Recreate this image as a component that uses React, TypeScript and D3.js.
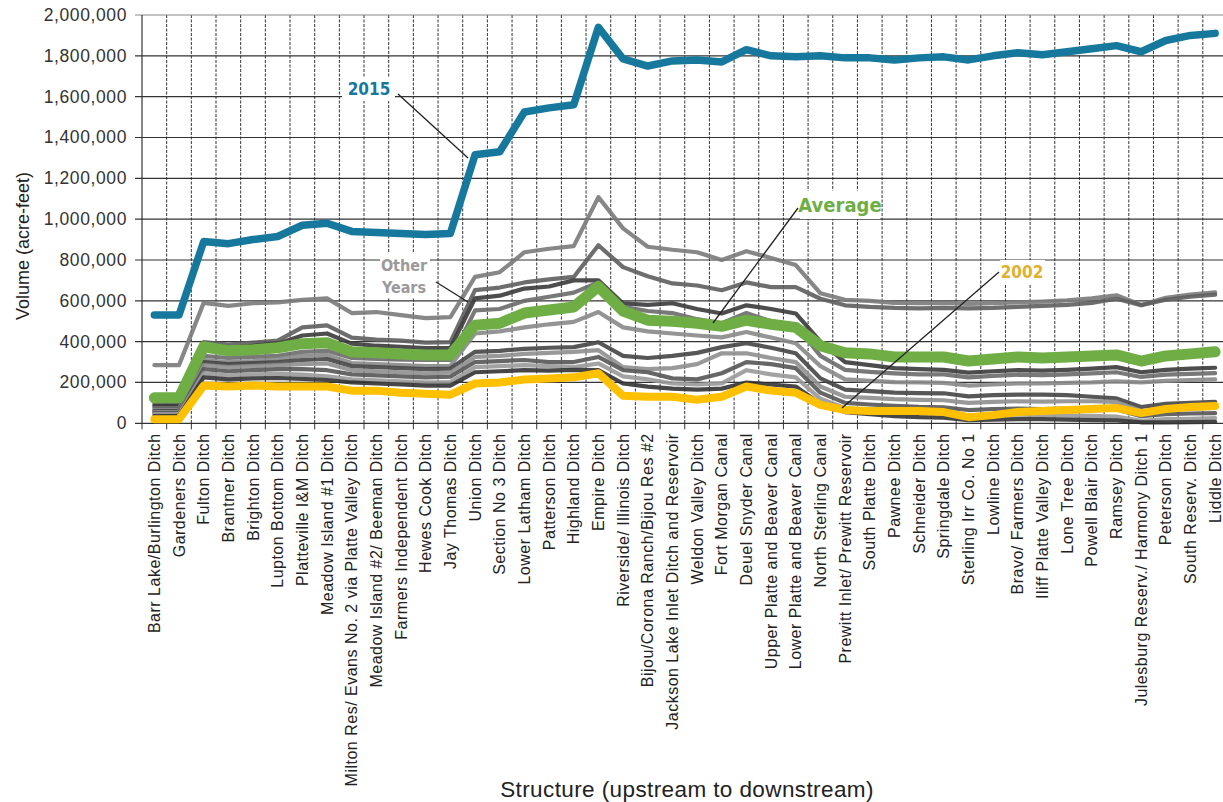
import React from "react";
import * as d3 from "d3";

// Structures, upstream to downstream
const categories = [
  "Barr Lake/Burlington Ditch", "Gardeners Ditch", "Fulton Ditch", "Brantner Ditch", "Brighton Ditch",
  "Lupton Bottom Ditch", "Platteville I&M Ditch", "Meadow Island #1 Ditch",
  "Milton Res/ Evans No. 2 via Platte Valley Ditch", "Meadow  Island #2/ Beeman Ditch",
  "Farmers Independent Ditch", "Hewes Cook Ditch", "Jay Thomas Ditch", "Union Ditch", "Section No 3 Ditch",
  "Lower Latham Ditch", "Patterson Ditch", "Highland Ditch", "Empire Ditch", "Riverside/ Illinois Ditch",
  "Bijou/Corona Ranch/Bijou Res #2", "Jackson Lake Inlet Ditch and Reservoir", "Weldon Valley Ditch",
  "Fort Morgan Canal", "Deuel Snyder Canal", "Upper Platte and Beaver Canal", "Lower Platte and Beaver Canal",
  "North Sterling Canal", "Prewitt Inlet/ Prewitt Reservoir", "South Platte Ditch", "Pawnee Ditch",
  "Schneider Ditch", "Springdale Ditch", "Sterling Irr Co. No 1", "Lowline Ditch", "Bravo/ Farmers Ditch",
  "Iliff Platte Valley Ditch", "Lone Tree Ditch", "Powell Blair Ditch", "Ramsey Ditch",
  "Julesburg Reserv./ Harmony Ditch 1", "Peterson Ditch", "South Reserv. Ditch", "Liddle Ditch",
];

// Volumes in thousands of acre-feet
const y2015 = [530, 530, 890, 880, 900, 915, 970, 980, 940, 935, 930, 925, 930, 1315, 1330, 1525, 1545, 1560, 1940, 1785, 1750, 1775, 1780, 1770, 1830, 1800, 1795, 1800, 1790, 1790, 1780, 1790, 1795, 1780, 1800, 1815, 1805, 1820, 1835, 1850, 1820, 1875, 1900, 1910];
const yAverage = [125, 125, 375, 355, 360, 370, 390, 395, 350, 345, 340, 335, 335, 480, 490, 540, 555, 570, 670, 550, 505, 500, 490, 475, 505, 485, 470, 380, 345, 340, 325, 325, 325, 305, 315, 325, 320, 325, 330, 335, 305, 330, 340, 350];
const y2002 = [20, 20, 185, 180, 185, 180, 180, 180, 160, 160, 150, 145, 140, 195, 200, 215, 220, 225, 245, 135, 130, 130, 115, 130, 180, 160, 150, 90, 65, 60, 60, 60, 55, 30, 40, 55, 60, 65, 70, 75, 50, 70, 80, 85];

const otherA = [285, 285, 590, 575, 588, 592, 605, 612, 540, 545, 530, 515, 520, 717, 740, 838, 855, 868, 1108, 955, 865, 850, 838, 800, 843, 810, 775, 637, 605, 600, 590, 588, 590, 585, 588, 592, 596, 602, 612, 627, 580, 615, 630, 642];
const otherB = [95, 95, 398, 385, 395, 405, 470, 480, 420, 410, 405, 395, 398, 652, 665, 690, 705, 717, 872, 765, 720, 685, 675, 652, 690, 667, 667, 610, 578, 570, 565, 563, 565, 563, 565, 570, 575, 580, 590, 610, 578, 605, 620, 630];
const otherC = [85, 85, 385, 370, 380, 390, 430, 440, 390, 380, 375, 368, 368, 612, 625, 660, 670, 700, 700, 587, 580, 588, 560, 538, 578, 560, 538, 400, 300, 285, 270, 265, 262, 248, 255, 260, 258, 262, 268, 275, 250, 262, 268, 272];
const otherD = [75, 75, 330, 320, 325, 330, 350, 355, 320, 315, 312, 310, 310, 553, 560, 600, 620, 640, 690, 570, 550, 540, 510, 490, 540, 500, 480, 330, 262, 252, 245, 240, 240, 225, 232, 238, 236, 240, 245, 250, 227, 238, 242, 246];
const otherE = [65, 65, 310, 300, 305, 315, 330, 335, 295, 290, 285, 280, 282, 440, 450, 470, 485, 497, 545, 470, 450, 440, 430, 421, 447, 420, 392, 280, 215, 208, 202, 200, 198, 185, 190, 195, 195, 198, 200, 205, 200, 208, 212, 215];
const otherF = [60, 60, 300, 290, 295, 300, 310, 315, 280, 275, 270, 265, 268, 350, 355, 365, 370, 373, 397, 330, 320, 330, 345, 373, 392, 370, 343, 220, 165, 158, 150, 148, 147, 132, 138, 140, 140, 138, 130, 122, 80, 95, 100, 105];
const otherG = [55, 55, 285, 275, 280, 285, 290, 293, 260, 255, 250, 245, 248, 325, 330, 340, 345, 350, 358, 275, 265, 270, 290, 343, 343, 320, 300, 180, 130, 125, 118, 115, 113, 100, 105, 108, 106, 108, 108, 105, 60, 70, 72, 75];
const otherH = [50, 50, 265, 255, 260, 265, 265, 260, 240, 235, 230, 225, 228, 300, 305, 310, 300, 300, 325, 260, 250, 220, 215, 245, 300, 290, 270, 150, 100, 92, 85, 80, 78, 65, 70, 72, 70, 72, 70, 68, 35, 45, 48, 50];
const otherI = [45, 45, 245, 235, 240, 242, 238, 230, 215, 210, 205, 200, 202, 275, 280, 285, 280, 275, 293, 230, 215, 195, 190, 196, 260, 240, 225, 120, 75, 65, 55, 50, 48, 35, 40, 42, 40, 38, 36, 33, 12, 20, 22, 25];
const otherJ = [35, 35, 225, 215, 220, 222, 218, 212, 200, 195, 190, 185, 185, 250, 255, 260, 258, 262, 260, 195, 180, 170, 165, 170, 200, 190, 180, 95, 55, 45, 35, 30, 28, 15, 18, 20, 20, 18, 16, 14, 5, 5, 6, 7];

const otherYears = [otherA, otherB, otherC, otherD, otherE, otherF, otherG, otherH, otherI, otherJ];
const otherColors = ["#7a7a7a", "#5e5e5e", "#3a3a3a", "#6a6a6a", "#888888", "#454545", "#8e8e8e", "#555555", "#999999", "#333333"];

const yTicks = [0, 200, 400, 600, 800, 1000, 1200, 1400, 1600, 1800, 2000];

const W = 1223;
const H = 802;
const left = 142;
const top = 15;
const bottom = 423.3;
const band = 24.67;
const right = left + band * categories.length;

export default function App() {
  const x = d3.scaleBand<string>().domain(categories).range([left, right]).padding(0);
  const y = d3.scaleLinear().domain([0, 2000]).range([bottom, top]);
  const bw = x.bandwidth();
  const cx = (i: number) => (x(categories[i]) as number) + bw / 2;
  const line = d3
    .line<number>()
    .x((_, i) => cx(i))
    .y((d) => y(d))
    .curve(d3.curveLinear);
  const fmt = d3.format(",");
  const font = "'Liberation Sans', Arial, sans-serif";
  const boldFont = "'Liberation Sans Narrow', 'DejaVu Sans Condensed', 'Liberation Sans', Arial, sans-serif";

  const boundaries = d3.range(categories.length + 1).map((i) => left + i * bw);

  return (
    <svg width={W} height={H} style={{ position: "absolute", left: 0, top: 0, background: "#fff" }}>
      <rect x={0} y={0} width={W} height={H} fill="#fff" />
      {/* vertical grid */}
      {boundaries.slice(1).map((bx, i) => (
        <line key={"vg" + i} x1={bx} x2={bx} y1={top} y2={bottom} stroke="#333" strokeWidth={1} strokeDasharray="3,1.5" />
      ))}
      {/* horizontal grid */}
      {yTicks.map((t) => (
        <line key={"hg" + t} x1={left - 7} x2={W} y1={y(t)} y2={y(t)} stroke={t === 2000 ? "#888" : "#333"} strokeWidth={1.2} />
      ))}
      {/* x ticks */}
      {boundaries.map((bx, i) => (
        <line key={"xt" + i} x1={bx} x2={bx} y1={bottom} y2={bottom + 6} stroke="#333" strokeWidth={1} />
      ))}
      <line x1={left} x2={left} y1={top} y2={bottom} stroke="#333" strokeWidth={1.2} />

      {/* other years */}
      {otherYears.map((s, k) => (
        <path key={"o" + k} d={line(s) || ""} fill="none" stroke={otherColors[k]} strokeWidth={4.2} strokeOpacity={0.9} strokeLinejoin="round" strokeLinecap="round" />
      ))}
      <path d={line(y2002) || ""} fill="none" stroke="#ffc000" strokeWidth={8} strokeLinejoin="round" strokeLinecap="round" />
      <path d={line(yAverage) || ""} fill="none" stroke="#6fae45" strokeWidth={11} strokeLinejoin="round" strokeLinecap="round" />
      <path d={line(y2015) || ""} fill="none" stroke="#15789c" strokeWidth={7.5} strokeLinejoin="round" strokeLinecap="round" />

      {/* annotations */}
      <line x1={398} y1={94} x2={468} y2={158} stroke="#222" strokeWidth={1.3} />
      <rect x={342} y={77} width={53} height={24} fill="#fff" />
      <text x={369} y={95} textAnchor="middle" fontFamily={boldFont} fontWeight="bold" fontSize={17} fill="#15789c">2015</text>

      <line x1={436} y1={282} x2={468} y2={302} stroke="#222" strokeWidth={1.3} />
      <rect x={380} y={253} width={50} height={44} fill="#fff" />
      <text x={404} y={271} textAnchor="middle" fontFamily={boldFont} fontWeight="bold" fontSize={16} fill="#9a9a9a">Other</text>
      <text x={404} y={293} textAnchor="middle" fontFamily={boldFont} fontWeight="bold" fontSize={16} fill="#9a9a9a">Years</text>

      <line x1={798} y1={208} x2={713} y2={323} stroke="#222" strokeWidth={1.3} />
      <rect x={800} y={191} width={80} height={28} fill="#fff" />
      <text x={840} y={212} textAnchor="middle" fontFamily={boldFont} fontWeight="bold" fontSize={20} fill="#6fae45">Average</text>

      <line x1={999} y1={272} x2={842} y2={408} stroke="#222" strokeWidth={1.3} />
      <rect x={1000} y={260} width={45} height={24} fill="#fff" />
      <text x={1022} y={278} textAnchor="middle" fontFamily={boldFont} fontWeight="bold" fontSize={17} fill="#e0b030">2002</text>

      {/* y tick labels */}
      {yTicks.map((t) => (
        <text key={"yl" + t} x={127} y={y(t) + 6} textAnchor="end" fontFamily={font} fontSize={17.5} letterSpacing={0.6} fill="#333">
          {fmt(t * 1000)}
        </text>
      ))}
      {/* x labels */}
      {categories.map((c, i) => (
        <text
          key={"xl" + i}
          transform={`translate(${cx(i) + 5.5},${bottom + 10}) rotate(-90)`}
          textAnchor="end"
          fontFamily={font}
          fontSize={16}
          letterSpacing={0.5}
          fill="#222"
        >
          {c}
        </text>
      ))}
      <text transform={`translate(29,246) rotate(-90)`} textAnchor="middle" fontFamily={font} fontSize={18} fill="#222">
        Volume (acre-feet)
      </text>
      <text x={687} y={797} textAnchor="middle" fontFamily={font} fontSize={22.5} letterSpacing={0.4} fill="#222">
        Structure (upstream to downstream)
      </text>
    </svg>
  );
}
